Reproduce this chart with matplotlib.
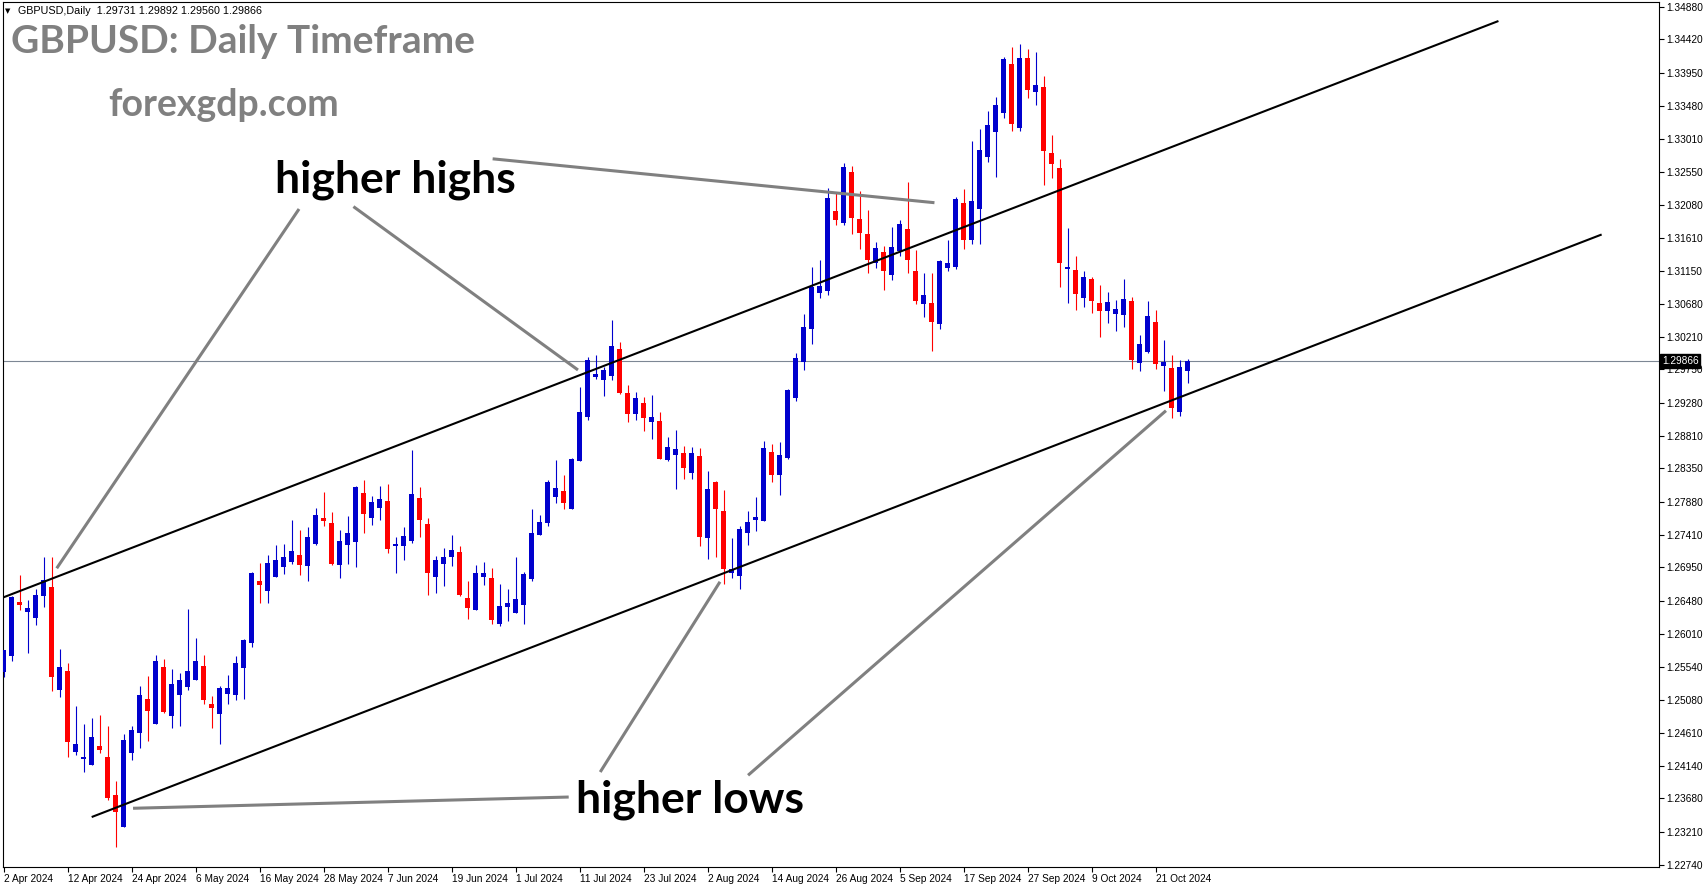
import matplotlib
matplotlib.use("Agg")
import matplotlib.pyplot as plt
import numpy as np
import pandas as pd

# ---------------- data (GBPUSD daily candles) ----------------
opens = [1.2547, 1.2570, 1.2646, 1.2632, 1.2623, 1.2655, 1.2667, 1.2521, 1.2548, 1.2434,
         1.2424, 1.2416, 1.2442, 1.2427, 1.2373, 1.2328, 1.2432, 1.2461, 1.2509, 1.2474,
         1.2554, 1.2484, 1.2514, 1.2525, 1.2536, 1.2555, 1.2502, 1.2487, 1.2516, 1.2514,
         1.2553, 1.2588, 1.2676, 1.2662, 1.2682, 1.2695, 1.2703, 1.2712, 1.2697, 1.2728,
         1.2765, 1.2758, 1.2699, 1.2726, 1.2731, 1.2800, 1.2765, 1.2779, 1.2789, 1.2725,
         1.2725, 1.2733, 1.2793, 1.2756, 1.2682, 1.2700, 1.2709, 1.2717, 1.2652, 1.2635,
         1.2682, 1.2680, 1.2615, 1.2639, 1.2631, 1.2642, 1.2679, 1.2741, 1.2758, 1.2795,
         1.2803, 1.2778, 1.2846, 1.2908, 1.2964, 1.2960, 1.2966, 1.3004, 1.2942, 1.2912,
         1.2928, 1.2901, 1.2902, 1.2847, 1.2854, 1.2857, 1.2828, 1.2853, 1.2736, 1.2816,
         1.2775, 1.2687, 1.2683, 1.2743, 1.2762, 1.2761, 1.2858, 1.2826, 1.2850, 1.2934,
         1.2986, 1.3032, 1.3083, 1.3086, 1.3199, 1.3182, 1.3254, 1.3188, 1.3167, 1.3126,
         1.3141, 1.3109, 1.3143, 1.3174, 1.3114, 1.3068, 1.3069, 1.3039, 1.3119, 1.3120,
         1.3211, 1.3158, 1.3202, 1.3276, 1.3311, 1.3338, 1.3407, 1.3317, 1.3416, 1.3368,
         1.3375, 1.3281, 1.3260, 1.3117, 1.3116, 1.3076, 1.3103, 1.3069, 1.3058, 1.3053,
         1.3052, 1.3072, 1.2984, 1.3000, 1.3042, 1.2980, 1.2977, 1.2915, 1.29731]
highs = [1.2578, 1.2654, 1.2684, 1.2649, 1.2664, 1.2710, 1.2710, 1.2579, 1.2560, 1.2499,
         1.2473, 1.2482, 1.2486, 1.2470, 1.2393, 1.2459, 1.2471, 1.2527, 1.2541, 1.2571,
         1.2565, 1.2551, 1.2546, 1.2636, 1.2595, 1.2571, 1.2513, 1.2527, 1.2543, 1.2570,
         1.2594, 1.2688, 1.2701, 1.2712, 1.2727, 1.2728, 1.2762, 1.2748, 1.2752, 1.2779,
         1.2802, 1.2773, 1.2748, 1.2768, 1.2810, 1.2819, 1.2796, 1.2810, 1.2813, 1.2738,
         1.2752, 1.2861, 1.2809, 1.2765, 1.2711, 1.2722, 1.2741, 1.2725, 1.2676, 1.2698,
         1.2703, 1.2694, 1.2671, 1.2664, 1.2710, 1.2688, 1.2778, 1.2769, 1.2819, 1.2847,
         1.2826, 1.2850, 1.2950, 1.2992, 1.2995, 1.2978, 1.3045, 1.3014, 1.2953, 1.2943,
         1.2936, 1.2939, 1.2915, 1.2879, 1.2889, 1.2867, 1.2865, 1.2864, 1.2831, 1.2817,
         1.2804, 1.2737, 1.2754, 1.2775, 1.2795, 1.2874, 1.2870, 1.2872, 1.2947, 1.2998,
         1.3053, 1.3120, 1.3130, 1.3232, 1.3225, 1.3267, 1.3263, 1.3228, 1.3201, 1.3155,
         1.3150, 1.3177, 1.3187, 1.3240, 1.3144, 1.3111, 1.3112, 1.3130, 1.3158, 1.3219,
         1.3230, 1.3298, 1.3315, 1.3341, 1.3361, 1.3417, 1.3431, 1.3436, 1.3428, 1.3424,
         1.3390, 1.3307, 1.3273, 1.3175, 1.3136, 1.3114, 1.3106, 1.3095, 1.3085, 1.3073,
         1.3103, 1.3078, 1.3024, 1.3072, 1.3059, 1.3017, 1.2995, 1.2988, 1.29892]
lows = [1.2540, 1.2563, 1.2635, 1.2574, 1.2613, 1.2639, 1.2520, 1.2511, 1.2427, 1.2430,
        1.2406, 1.2415, 1.2433, 1.2366, 1.2300, 1.2328, 1.2422, 1.2440, 1.2450, 1.2473,
        1.2489, 1.2467, 1.2471, 1.2521, 1.2535, 1.2501, 1.2468, 1.2445, 1.2502, 1.2507,
        1.2509, 1.2583, 1.2644, 1.2645, 1.2681, 1.2686, 1.2700, 1.2684, 1.2675, 1.2727,
        1.2754, 1.2698, 1.2680, 1.2700, 1.2695, 1.2743, 1.2755, 1.2762, 1.2716, 1.2687,
        1.2705, 1.2730, 1.2738, 1.2656, 1.2659, 1.2669, 1.2697, 1.2655, 1.2622, 1.2634,
        1.2670, 1.2615, 1.2612, 1.2619, 1.2630, 1.2615, 1.2675, 1.2741, 1.2754, 1.2786,
        1.2778, 1.2777, 1.2845, 1.2903, 1.2962, 1.2937, 1.2960, 1.2940, 1.2901, 1.2903,
        1.2888, 1.2877, 1.2848, 1.2846, 1.2806, 1.2820, 1.2820, 1.2725, 1.2707, 1.2710,
        1.2672, 1.2680, 1.2665, 1.2726, 1.2747, 1.2760, 1.2816, 1.2798, 1.2849, 1.2931,
        1.2974, 1.3011, 1.3076, 1.3080, 1.3179, 1.3179, 1.3167, 1.3145, 1.3111, 1.3119,
        1.3087, 1.3102, 1.3136, 1.3112, 1.3068, 1.3049, 1.3001, 1.3032, 1.3114, 1.3117,
        1.3145, 1.3153, 1.3153, 1.3269, 1.3247, 1.3331, 1.3312, 1.3312, 1.3359, 1.3349,
        1.3236, 1.3246, 1.3092, 1.3069, 1.3059, 1.3063, 1.3055, 1.3021, 1.3041, 1.3029,
        1.3035, 1.2976, 1.2973, 1.2999, 1.2976, 1.2945, 1.2906, 1.2909, 1.29560]
closes = [1.2578, 1.2653, 1.2642, 1.2637, 1.2656, 1.2677, 1.2540, 1.2554, 1.2448, 1.2445,
          1.2427, 1.2455, 1.2436, 1.2369, 1.2349, 1.2451, 1.2465, 1.2514, 1.2492, 1.2562,
          1.2490, 1.2530, 1.2536, 1.2548, 1.2562, 1.2508, 1.2496, 1.2524, 1.2524, 1.2560,
          1.2592, 1.2687, 1.2670, 1.2701, 1.2705, 1.2710, 1.2718, 1.2698, 1.2738, 1.2769,
          1.2761, 1.2700, 1.2732, 1.2744, 1.2809, 1.2770, 1.2787, 1.2792, 1.2721, 1.2728,
          1.2739, 1.2799, 1.2762, 1.2687, 1.2705, 1.2710, 1.2720, 1.2656, 1.2638, 1.2687,
          1.2687, 1.2621, 1.2640, 1.2645, 1.2650, 1.2686, 1.2744, 1.2759, 1.2816, 1.2807,
          1.2786, 1.2848, 1.2915, 1.2988, 1.2969, 1.2974, 1.3008, 1.2942, 1.2912, 1.2935,
          1.2907, 1.2908, 1.2849, 1.2866, 1.2862, 1.2836, 1.2857, 1.2738, 1.2806, 1.2777,
          1.2692, 1.2693, 1.2749, 1.2759, 1.2766, 1.2864, 1.2825, 1.2854, 1.2946, 1.2991,
          1.3035, 1.3092, 1.3093, 1.3218, 1.3187, 1.3261, 1.3189, 1.3168, 1.3130, 1.3147,
          1.3114, 1.3148, 1.3181, 1.3130, 1.3072, 1.3080, 1.3042, 1.3129, 1.3126, 1.3216,
          1.3158, 1.3213, 1.3286, 1.3321, 1.3349, 1.3414, 1.3322, 1.3416, 1.3370, 1.3378,
          1.3284, 1.3266, 1.3125, 1.3120, 1.3082, 1.3106, 1.3072, 1.3058, 1.3070, 1.3061,
          1.3075, 1.2988, 1.3011, 1.3051, 1.2983, 1.2986, 1.2920, 1.2978, 1.29866]

dates = pd.bdate_range("2024-04-02", periods=len(opens))
label_step = 8
price_ticks = [1.34880, 1.34420, 1.33950, 1.33480, 1.33010, 1.32550, 1.32080, 1.31610,
               1.31150, 1.30680, 1.30210, 1.29750, 1.29280, 1.28810, 1.28350, 1.27880,
               1.27410, 1.26950, 1.26480, 1.26010, 1.25540, 1.25080, 1.24610, 1.24140,
               1.23680, 1.23210, 1.22740]
header = "GBPUSD,Daily  1.29731 1.29892 1.29560 1.29866"
title = "GBPUSD: Daily Timeframe"
site = "forexgdp.com"

# channel lines (bar index, price)
upper_channel = [(-0.2, 1.26518), (186.86, 1.34681)]
lower_channel = [(11.01, 1.23417), (199.76, 1.31660)]
# grey pointer lines (bar index, price)
pointers = [
    [(36.93, 1.32021), (6.64, 1.26937)],
    [(43.73, 1.32055), (71.80, 1.29743)],
    [(61.13, 1.32731), (116.36, 1.32110)],
    [(16.18, 1.23541), (70.64, 1.23700)],
    [(74.58, 1.24054), (89.55, 1.26746)],
    [(93.06, 1.24008), (145.30, 1.29167)],
]

# ---------------- figure ----------------
W, H = 1705, 888
fig = plt.figure(figsize=(W / 100, H / 100), dpi=100)
fig.patch.set_facecolor("white")

def fx(px):
    return px / W

def fy(py):
    return 1 - py / H

ax = fig.add_axes([fx(2.7), fy(867), fx(1659) - fx(2.7), fy(2) - fy(867)])
ax.set_facecolor("white")

o = np.array(opens); h = np.array(highs); l = np.array(lows); c = np.array(closes)
x = np.arange(len(o))
bull = c >= o
cols = np.where(bull, "#0000cd", "#ff0000")

ax.vlines(x, l, h, colors=cols, linewidth=0.8, zorder=3)
body_lo = np.minimum(o, c)
body_h = np.maximum(np.abs(c - o), 0.00012)
ax.bar(x, body_h, bottom=body_lo, width=0.625, color=cols, linewidth=0, zorder=3)

# current price line
ax.axhline(closes[-1], color="#7d8794", linewidth=0.8, zorder=2)

# channel lines
for seg in (upper_channel, lower_channel):
    xs, ys = zip(*seg)
    ax.plot(xs, ys, color="black", linewidth=1.5, zorder=4, solid_capstyle="butt")

for seg in pointers:
    xs, ys = zip(*seg)
    ax.plot(xs, ys, color="#808080", linewidth=2.2, zorder=4, solid_capstyle="butt")

ax.set_xlim(-0.1125, 206.93)
ax.set_ylim(1.2271, 1.3495)

# axes styling
for sp in ax.spines.values():
    sp.set_color("black")
    sp.set_linewidth(0.8)

tick_font = dict(family="Liberation Sans", size=7.3)
ax.yaxis.tick_right()
ax.set_yticks(price_ticks)
ax.set_yticklabels([f"{v:.5f}" for v in price_ticks], fontdict=tick_font)
ax.tick_params(axis="y", direction="out", length=3.5, width=0.8, pad=2, colors="black")

xt = x[::label_step]
ax.set_xticks(xt)
ax.set_xticklabels([f"{d.day} {d:%b %Y}" for d in dates[::label_step]], fontdict=tick_font)
ax.tick_params(axis="x", direction="out", length=3.5, width=0.8, pad=1.5, colors="black")
for lab in ax.get_xticklabels():
    lab.set_horizontalalignment("left")

# current price box on the axis
ax.annotate(f"{closes[-1]:.5f}", xy=(1.0, closes[-1]), xycoords=("axes fraction", "data"),
            xytext=(2, 0), textcoords="offset points", ha="left", va="center",
            color="white", fontsize=7.3, family="Liberation Sans", zorder=10,
            bbox=dict(boxstyle="square,pad=0.18", fc="black", ec="black"),
            annotation_clip=False)

# header and watermark texts
fig.text(fx(8), fy(11), "\u25BC", fontsize=5, color="black", ha="center", va="center",
         family="DejaVu Sans")
fig.text(fx(18), fy(11), header, fontsize=7.75, color="black", ha="left", va="center",
         family="Liberation Sans")
fig.text(fx(11), fy(53), title, fontsize=28, color="#808080", ha="left", va="baseline",
         family="Lato", fontweight="bold")
fig.text(fx(108), fy(115.5), site, fontsize=27, color="#808080", ha="left", va="baseline",
         family="Lato", fontweight="bold")
fig.text(fx(275), fy(192), "higher highs", fontsize=32, color="black", ha="left",
         va="baseline", family="Lato", fontweight="bold")
fig.text(fx(576), fy(812), "higher lows", fontsize=32, color="black", ha="left",
         va="baseline", family="Lato", fontweight="bold")

fig.savefig("out.png", dpi=100, facecolor="white")
